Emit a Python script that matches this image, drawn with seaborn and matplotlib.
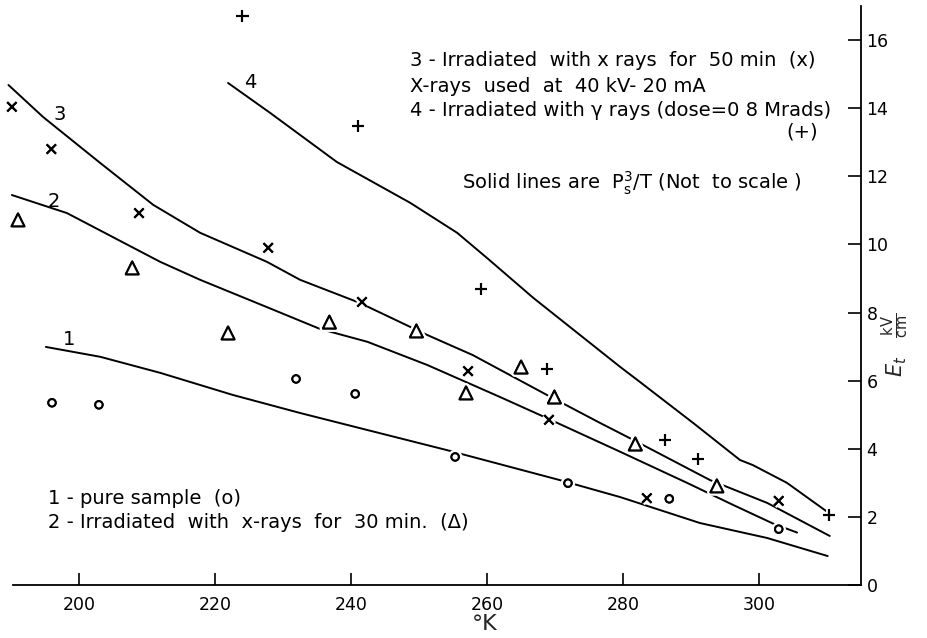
import matplotlib
matplotlib.use("Agg")
import matplotlib.pyplot as plt
import matplotlib.patheffects as pe
import seaborn as sns

# Measured breakdown field E_t (kV/cm) against temperature (K)
pure_T = [196.0, 202.9, 231.9, 240.6, 255.3, 271.9, 286.8, 302.9]
pure_E = [5.35, 5.29, 6.05, 5.61, 3.76, 2.99, 2.53, 1.64]

x30_T = [191.0, 207.8, 221.9, 236.8, 249.6, 256.9, 265.0, 269.9, 281.8, 293.8]
x30_E = [10.72, 9.31, 7.40, 7.72, 7.46, 5.64, 6.40, 5.52, 4.14, 2.91]

x50_T = [190.1, 195.9, 208.8, 227.8, 241.6, 257.2, 269.1, 283.5, 302.9]
x50_E = [14.04, 12.80, 10.92, 9.90, 8.31, 6.28, 4.85, 2.55, 2.47]

gamma_T = [224.0, 241.0, 259.1, 268.8, 286.2, 291.0, 310.3]
gamma_E = [16.71, 13.48, 8.69, 6.34, 4.26, 3.70, 2.06]

# Solid lines: Ps^3/T (arbitrary scale)
c1_T = [195.1, 203.1, 211.9, 222.6, 232.5, 242.4, 254.1, 270.7, 279.6, 291.3, 301.2, 310.1]
c1_E = [6.99, 6.70, 6.23, 5.58, 5.05, 4.55, 3.96, 3.08, 2.58, 1.82, 1.38, 0.85]

c2_T = [190.1, 198.2, 211.9, 217.8, 227.6, 235.4, 242.4, 251.2, 261.9, 267.8, 279.6, 289.4, 296.2, 302.1, 305.6]
c2_E = [11.45, 10.92, 9.49, 8.96, 8.16, 7.52, 7.14, 6.46, 5.52, 4.99, 3.91, 3.00, 2.35, 1.80, 1.54]

c3_T = [189.6, 194.7, 203.1, 210.9, 217.8, 227.6, 232.5, 241.3, 251.2, 257.9, 268.8, 276.6, 281.5, 292.8, 301.2, 310.4]
c3_E = [14.68, 13.74, 12.39, 11.16, 10.34, 9.49, 8.96, 8.28, 7.34, 6.75, 5.58, 4.76, 4.26, 3.08, 2.41, 1.44]

c4_T = [221.9, 228.1, 237.9, 248.7, 255.6, 260.0, 266.8, 279.6, 282.1, 290.3, 297.2, 299.1, 304.1, 310.1]
c4_E = [14.74, 13.86, 12.42, 11.22, 10.34, 9.60, 8.43, 6.40, 6.02, 4.76, 3.67, 3.52, 3.00, 2.14]

x_ticks = [200, 220, 240, 260, 280, 300]
y_ticks = [0, 2, 4, 6, 8, 10, 12, 14, 16]

sns.set_theme(style="white")
plt.rcParams["font.family"] = ["DejaVu Sans"]
plt.rcParams["mathtext.fontset"] = "dejavusans"

W, H = 928, 638
fig = plt.figure(figsize=(W / 100, H / 100), dpi=100)
ax = fig.add_axes([1 / W, 53 / H, 860 / W, 579 / H])
ax.set_xlim(188.5, 315)
ax.set_ylim(0, 17)


def fpos(x, y):
    return x / W, 1 - y / H


line_kw = dict(color="black", linewidth=1.4, sort=False, estimator=None, ax=ax, zorder=2)
for T, E in [(c1_T, c1_E), (c2_T, c2_E), (c3_T, c3_E), (c4_T, c4_E)]:
    sns.lineplot(x=T, y=E, **line_kw)

halo = [pe.withStroke(linewidth=5, foreground="white")]
marker_sets = [
    (pure_T, pure_E, "o", 28, "white"),
    (x30_T, x30_E, "^", 85, "white"),
    (x50_T, x50_E, "x", 45, "black"),
    (gamma_T, gamma_E, "+", 80, "black"),
]
for T, E, m, s, fc in marker_sets:
    sns.scatterplot(x=T, y=E, marker=m, s=s, color="black", facecolor=fc,
                    edgecolor="black", linewidth=1.5, ax=ax, zorder=3,
                    legend=False)
    ax.collections[-1].set_path_effects(halo + [pe.Normal()])

# Axis styling: only bottom and right axes, inward ticks
for side in ["left", "top"]:
    ax.spines[side].set_visible(False)
for side in ["bottom", "right"]:
    ax.spines[side].set_color("black")
    ax.spines[side].set_linewidth(1.3)
ax.spines["bottom"].set_bounds(190.3, 315)
ax.yaxis.tick_right()
ax.set_xticks(x_ticks)
ax.set_yticks(y_ticks)
ax.set_xticklabels([str(v) for v in x_ticks])
ax.set_yticklabels([str(v) for v in y_ticks])
ax.tick_params(axis="x", direction="in", length=9, width=1.2, pad=8,
               labelsize=12.5, colors="black", bottom=True)
ax.tick_params(axis="y", direction="in", length=9.5, width=1.2, pad=4,
               labelsize=12.5, colors="black", right=True, left=False)
ax.grid(False)

ax.set_xlabel("°K", fontsize=16)
ax.xaxis.set_label_coords(0.563, -0.067)
ax.xaxis.label.set_va("center")

ax.yaxis.set_label_position("right")
ax.set_ylabel(r"$E_t\quad\frac{\mathrm{kV}}{\mathrm{cm}}$", fontsize=15,
              rotation=90)
ax.yaxis.set_label_coords((895 - 1) / 860, (585 - 345) / 579)
ax.yaxis.label.set_va("center")
ax.yaxis.label.set_ha("center")

# Curve numbers
for txt, T, E in [("1", 198.5, 7.22), ("2", 196.2, 11.25),
                  ("3", 197.1, 13.80), ("4", 225.1, 14.74)]:
    ax.text(T, E, txt, fontsize=14, ha="center", va="center", color="black")

# Annotations
tkw = dict(fontsize=14, color="black", va="center")
fig.text(*fpos(410, 60), "3 - Irradiated  with x rays  for  50 min  (x)", ha="left", **tkw)
fig.text(*fpos(410, 87), "X-rays  used  at  40 kV- 20 mA", ha="left", **tkw)
fig.text(*fpos(410, 110), "4 - Irradiated with γ rays (dose=0 8 Mrads)", ha="left", **tkw)
fig.text(*fpos(818, 132), "(+)", ha="right", **tkw)
fig.text(*fpos(462, 183), r"Solid lines are  $\mathregular{P_s^3/T}$ (Not  to scale )",
         ha="left", **tkw)
fig.text(*fpos(48, 499), "1 - pure sample  (o)", ha="left", **tkw)
fig.text(*fpos(48, 523), "2 - Irradiated  with  x-rays  for  30 min.  (Δ)", ha="left", **tkw)

fig.savefig("out.png", dpi=100, facecolor="white")
